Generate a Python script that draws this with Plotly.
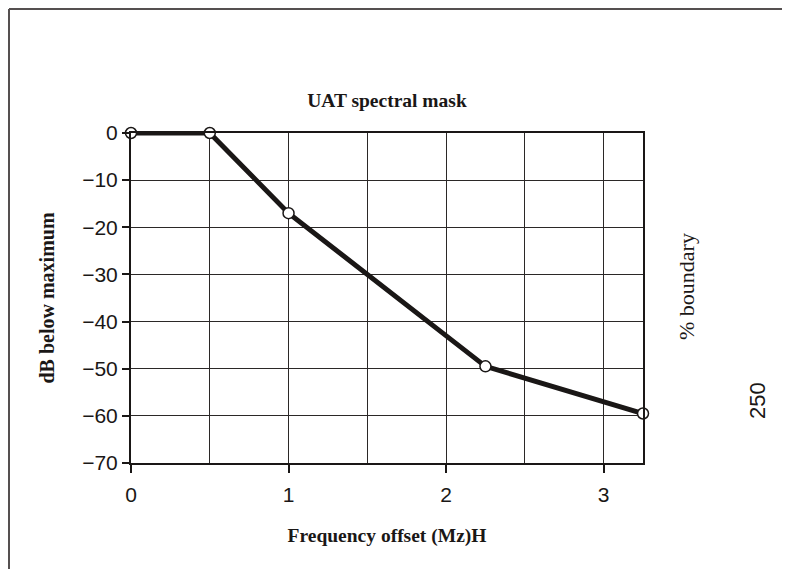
import plotly.graph_objects as go

# spectral mask corner points
freq_offset = [0, 0.5, 1, 2.25, 3.25]
db_below_max = [0, 0, -17, -49.5, -59.5]

x_ticks = [0, 1, 2, 3]
y_ticks = [0, -10, -20, -30, -40, -50, -60, -70]

sans = "Liberation Sans, Arial, sans-serif"
serif = "Liberation Serif, Times New Roman, serif"
ink = "#1a1716"

# page body has an 8px margin, so keep the figure inside the window
W, H = 782, 561
L, T, PW, PH = 123, 125, 512, 330

fig = go.Figure()

fig.add_trace(go.Scatter(
    x=freq_offset,
    y=db_below_max,
    mode="lines+markers",
    line=dict(color=ink, width=5),
    marker=dict(size=11, color="white", line=dict(color=ink, width=1.5)),
    cliponaxis=False,
    showlegend=False,
))

fig.update_layout(
    width=W,
    height=H,
    margin=dict(l=L, r=W - L - PW, t=T, b=H - T - PH),
    plot_bgcolor="white",
    paper_bgcolor="white",
    title=dict(
        text="<b>UAT spectral mask</b>",
        x=(387 - 8) / W, xanchor="center",
        y=1 - 92 / H, yanchor="middle",
        font=dict(family=serif, size=19.5, color=ink),
    ),
    xaxis=dict(
        range=[0, 3.25],
        tickvals=x_ticks,
        ticks="outside", ticklen=8, tickwidth=2, tickcolor=ink,
        ticklabelstandoff=4,
        showgrid=True, gridcolor="#2b2827", gridwidth=1.3,
        minor=dict(dtick=0.5, tick0=0, showgrid=True, gridcolor="#2b2827", gridwidth=1.3, ticks=""),
        showline=True, linecolor=ink, linewidth=2, mirror=True,
        zeroline=False,
        tickfont=dict(family=sans, size=21, color=ink),
        title=dict(text="<b>Frequency offset (Mz)H</b>", standoff=23,
                   font=dict(family=serif, size=19.5, color=ink)),
    ),
    yaxis=dict(
        range=[-70, 0],
        tickvals=y_ticks,
        ticks="outside", ticklen=7, tickwidth=2, tickcolor=ink,
        showgrid=True, gridcolor="#2b2827", gridwidth=1.3,
        showline=True, linecolor=ink, linewidth=2, mirror=True,
        zeroline=False,
        tickfont=dict(family=sans, size=21, color=ink),
        title=dict(text="<b>dB below maximum</b>", standoff=22,
                   font=dict(family=serif, size=20, color=ink)),
    ),
)

# right side labels
fig.add_annotation(
    text="% boundary", xref="paper", yref="paper",
    x=(686 - 8 - L) / PW, y=(T + PH - (287 - 8)) / PH,
    textangle=-90, showarrow=False, xanchor="center", yanchor="middle",
    font=dict(family=serif, size=22, color=ink),
)
fig.add_annotation(
    text="250", xref="paper", yref="paper",
    x=(757 - 8 - L) / PW, y=(T + PH - (401 - 8)) / PH,
    textangle=-90, showarrow=False, xanchor="center", yanchor="middle",
    font=dict(family=sans, size=22, color=ink),
)

# outer frame: only left and top edges are on the page
fx0 = (1 - L) / PW
fx1 = (W - L) / PW
fy0 = (T + PH - H) / PH
fy1 = (T + PH - 1) / PH
frame = dict(color="#555050", width=2)
fig.add_shape(type="line", xref="paper", yref="paper",
              x0=fx0, x1=fx0, y0=fy0, y1=fy1, line=frame, layer="below")
fig.add_shape(type="line", xref="paper", yref="paper",
              x0=fx0, x1=fx1, y0=fy1, y1=fy1, line=frame, layer="below")

fig.write_html("out.html")
